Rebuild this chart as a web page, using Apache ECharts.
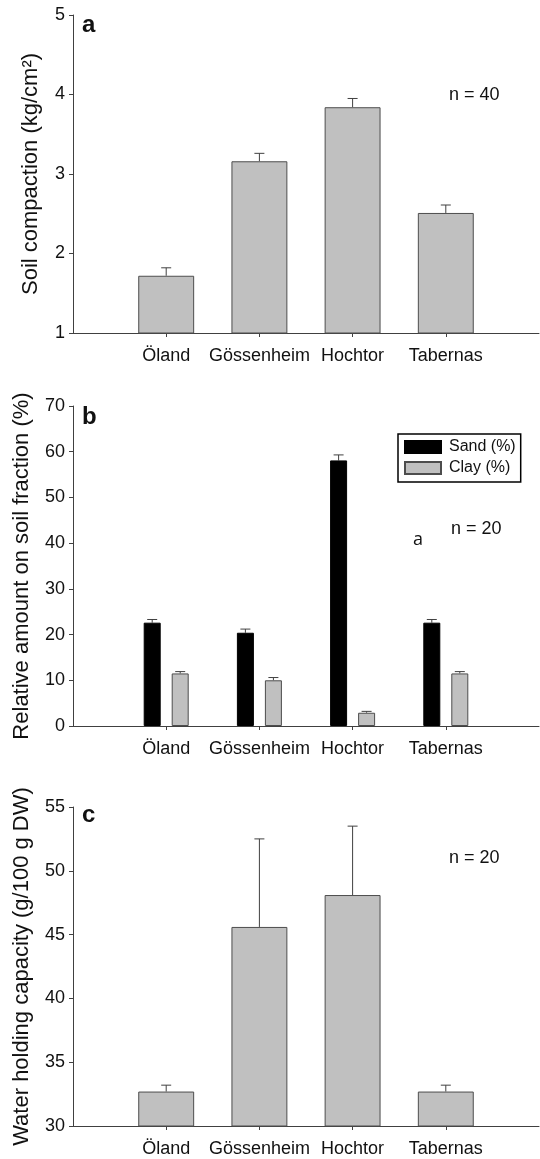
<!DOCTYPE html>
<html>
<head>
<meta charset="utf-8">
<script src="https://cdn.jsdelivr.net/npm/echarts@6/dist/echarts.min.js"></script>
<style>
  html, body { margin: 0; padding: 0; background: #fff; }
  #chart { width: 540px; height: 1159px; }
</style>
</head>
<body>
<div id="chart"></div>
<script>
// sites
const categories = ["Öland", "Gössenheim", "Hochtor", "Tabernas"];

// a: soil compaction
const compaction = [1.72, 3.16, 3.84, 2.51];
const compactionErr = [0.10, 0.10, 0.11, 0.10];
const compactionTicks = [1, 2, 3, 4, 5];

// b: soil fraction
const sand = [22.6, 20.4, 58.1, 22.6];
const sandErr = [0.7, 0.8, 1.2, 0.7];
const clay = [11.5, 10.0, 2.9, 11.5];
const clayErr = [0.4, 0.6, 0.3, 0.4];
const fractionTicks = [0, 10, 20, 30, 40, 50, 60, 70];

// c: water holding capacity
const whc = [32.7, 45.6, 48.1, 32.7];
const whcErr = [0.5, 6.9, 5.4, 0.5];
const whcTicks = [30, 35, 40, 45, 50, 55];

const FONT = "Liberation Sans, Arial, sans-serif";
const AXIS = "#404040";
const GREY = "#c0c0c0";

// empty slot at both ends so the sites sit at 1..4 of 0..5
const axisData = ["", ...categories, ""];
const pad = (arr) => ["-", ...arr, "-"];
const errData = (vals, errs) => vals.map((v, i) => [i + 1, v, errs[i]]);

const sandBarW = 17;
const barGapPx = 11;

function errBar(offset) {
  return function (params, api) {
    const x = api.value(0);
    const v = api.value(1);
    const e = api.value(2);
    const p0 = api.coord([x, v]);
    const p1 = api.coord([x, v + e]);
    const cx = p0[0] + offset;
    const st = { stroke: AXIS, lineWidth: 1 };
    return {
      type: "group",
      children: [
        { type: "line", shape: { x1: cx, y1: p0[1], x2: cx, y2: p1[1] }, style: st },
        { type: "line", shape: { x1: cx - 5, y1: p1[1], x2: cx + 5, y2: p1[1] }, style: st },
      ],
    };
  };
}

function xAxisFor(gridIndex) {
  return {
    type: "category",
    gridIndex,
    data: axisData,
    boundaryGap: false,
    axisLine: { show: true, onZero: false, lineStyle: { color: AXIS, width: 1 } },
    axisTick: {
      show: true,
      length: 4,
      interval: (i) => i > 0 && i < axisData.length - 1,
      lineStyle: { color: AXIS },
    },
    axisLabel: {
      interval: 0,
      margin: 14,
      color: "#111",
      fontSize: 18,
      fontFamily: FONT,
    },
    splitLine: { show: false },
  };
}

function yAxisFor(gridIndex, ticks, name, nameGap) {
  return {
    type: "value",
    gridIndex,
    min: ticks[0],
    max: ticks[ticks.length - 1],
    interval: ticks[1] - ticks[0],
    name,
    nameLocation: "middle",
    nameGap,
    nameTextStyle: { color: "#111", fontSize: 22, fontFamily: FONT },
    axisLine: { show: true, lineStyle: { color: AXIS, width: 1 } },
    axisTick: { show: true, length: 4, lineStyle: { color: AXIS } },
    axisLabel: { margin: 8, color: "#111", fontSize: 18, fontFamily: FONT },
    splitLine: { show: false },
  };
}

const greyBar = { color: GREY, borderColor: "#4d4d4d", borderWidth: 1 };

const txt = (x, y, text, font) => ({
  type: "text",
  x, y,
  style: { text, font, fill: "#111", align: "left", verticalAlign: "middle" },
});

const options = {
  animation: false,
  backgroundColor: "#fff",
  grid: [
    { left: 73, top: 15, width: 466, height: 318, outerBoundsMode: "none" },
    { left: 73, top: 406, width: 466, height: 320, outerBoundsMode: "none" },
    { left: 73, top: 807, width: 466, height: 319, outerBoundsMode: "none" },
  ],
  legend: {
    data: ["Sand (%)", "Clay (%)"],
    orient: "vertical",
    icon: "rect",
    left: 398,
    top: 434,
    itemWidth: 36,
    itemHeight: 12,
    itemGap: 5,
    padding: [5, 5, 6, 6],
    borderColor: "#000",
    borderWidth: 1.5,
    borderRadius: 0,
    textStyle: { color: "#111", fontSize: 16, fontFamily: FONT, lineHeight: 16, padding: [0, 0, 0, 3] },
  },
  xAxis: [xAxisFor(0), xAxisFor(1), xAxisFor(2)],
  yAxis: [
    yAxisFor(0, compactionTicks, "Soil compaction (kg/cm²)", 31),
    yAxisFor(1, fractionTicks, "Relative amount on soil fraction (%)", 40),
    yAxisFor(2, whcTicks, "Water holding capacity (g/100 g DW)", 40),
  ],
  series: [
    {
      type: "bar",
      xAxisIndex: 0, yAxisIndex: 0,
      data: pad(compaction),
      barWidth: "60%",
      itemStyle: greyBar,
    },
    {
      type: "custom",
      xAxisIndex: 0, yAxisIndex: 0,
      renderItem: errBar(0),
      encode: { x: 0, y: 1 },
      data: errData(compaction, compactionErr),
    },
    {
      name: "Sand (%)",
      type: "bar",
      xAxisIndex: 1, yAxisIndex: 1,
      data: pad(sand),
      barWidth: sandBarW,
      barGap: (barGapPx / sandBarW * 100) + "%",
      itemStyle: { color: "#000", borderColor: "#000", borderWidth: 1 },
    },
    {
      name: "Clay (%)",
      type: "bar",
      xAxisIndex: 1, yAxisIndex: 1,
      data: pad(clay),
      barWidth: sandBarW,
      itemStyle: greyBar,
    },
    {
      type: "custom",
      xAxisIndex: 1, yAxisIndex: 1,
      renderItem: errBar(-(sandBarW + barGapPx) / 2),
      encode: { x: 0, y: 1 },
      data: errData(sand, sandErr),
    },
    {
      type: "custom",
      xAxisIndex: 1, yAxisIndex: 1,
      renderItem: errBar((sandBarW + barGapPx) / 2),
      encode: { x: 0, y: 1 },
      data: errData(clay, clayErr),
    },
    {
      type: "bar",
      xAxisIndex: 2, yAxisIndex: 2,
      data: pad(whc),
      barWidth: "60%",
      itemStyle: greyBar,
    },
    {
      type: "custom",
      xAxisIndex: 2, yAxisIndex: 2,
      renderItem: errBar(0),
      encode: { x: 0, y: 1 },
      data: errData(whc, whcErr),
    },
  ],
  graphic: [
    txt(82, 25, "a", "bold 24px " + FONT),
    txt(449, 95, "n = 40", "18px " + FONT),
    txt(82, 417, "b", "bold 24px " + FONT),
    txt(451, 529, "n = 20", "18px " + FONT),
    txt(413, 540, "a", "18px Open Sans, sans-serif"),
    txt(82, 815, "c", "bold 24px " + FONT),
    txt(449, 858, "n = 20", "18px " + FONT),
  ],
};

const chart = echarts.init(document.getElementById("chart"), null, { renderer: "canvas" });
chart.setOption(options);
window.addEventListener("resize", () => chart.resize());
</script>
</body>
</html>
